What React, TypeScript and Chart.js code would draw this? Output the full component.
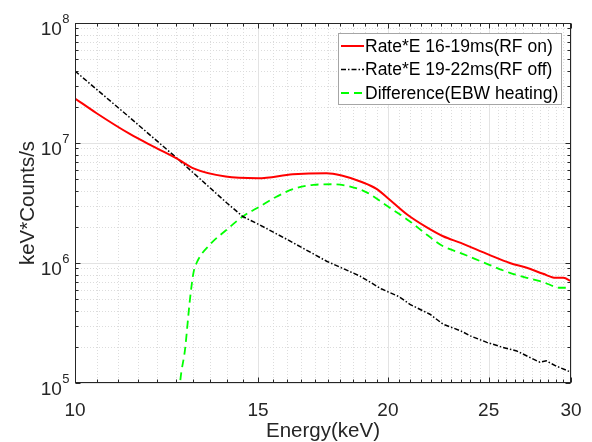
import React, { useEffect, useRef } from 'react';
import { Chart, registerables } from 'chart.js';

Chart.register(...registerables);

// ---- Data ----
const rfOnEnergy = [10, 10.49, 11.29, 11.94, 12.57, 13.0, 13.96, 15.0, 16.2, 17.46, 18.05, 18.9, 19.5, 20.0, 20.9, 21.8, 22.6, 23.5, 25.0, 26.2, 27.2, 28.2, 29.0, 29.5, 30.0];
const rfOnRate = [2.35e7, 1.77e7, 1.19e7, 9.2e6, 7.31e6, 6.15e6, 5.25e6, 5.08e6, 5.48e6, 5.6e6, 5.35e6, 4.71e6, 4.15e6, 3.47e6, 2.51e6, 1.98e6, 1.67e6, 1.47e6, 1.175e6, 1.0e6, 9.12e5, 8.13e5, 7.53e5, 7.53e5, 7.06e5];

const rfOffEnergy = [10, 11.29, 12.57, 14.0, 14.5, 15.0, 16.0, 17.46, 18.8, 19.7, 20.5, 21.0, 21.95, 22.6, 23.5, 24.0, 24.9, 25.8, 26.6, 27.6, 28.0, 28.4, 29.0, 30.0];
const rfOffRate = [3.98e7, 1.63e7, 7.31e6, 3.16e6, 2.44e6, 2.11e6, 1.57e6, 1.035e6, 7.78e5, 6.1e5, 5.24e5, 4.52e5, 3.74e5, 3.09e5, 2.72e5, 2.47e5, 2.18e5, 1.98e5, 1.85e5, 1.58e5, 1.49e5, 1.53e5, 1.39e5, 1.23e5];

const diffEnergy = [12.55, 12.62, 12.76, 12.9, 13.0, 13.09, 13.48, 14.0, 14.5, 15.06, 15.64, 16.2, 16.95, 17.7, 18.4, 19.1, 20.0, 21.0, 21.8, 22.6, 23.5, 25.0, 26.2, 27.2, 28.2, 29.3, 30.0];
const diffRate = [5e4, 1.0e5, 1.91e5, 4.98e5, 8.28e5, 1.0e6, 1.42e6, 1.9e6, 2.44e6, 2.96e6, 3.58e6, 4.12e6, 4.48e6, 4.53e6, 4.34e6, 3.86e6, 2.96e6, 2.22e6, 1.72e6, 1.38e6, 1.21e6, 9.7e5, 8.28e5, 7.53e5, 6.93e5, 6.22e5, 6.22e5];

const seriesLabels = ['Rate*E 16-19ms(RF on)', 'Rate*E 19-22ms(RF off)', 'Difference(EBW heating)'];
const xMajorTicks = [10, 15, 20, 25, 30];
const xMinorStep = 0.5;
const yMajorTicks = [1e5, 1e6, 1e7, 1e8];
const yExponents = ['5', '6', '7', '8'];
const xTitle = 'Energy(keV)';
const yTitle = 'keV*Counts/s';

const FONT = '"Liberation Sans", Arial, Helvetica, sans-serif';
const AXIS_COLOR = '#262626';
const TICK_SIZE = 19;
const TITLE_SIZE = 20.5;
const LEGEND_SIZE = 17.5;

const colors = ['#ff0000', '#000000', '#00ff00'];
const dashes: number[][] = [[], [5, 2, 1.5, 2], [8, 5]];
const widths = [2, 1.5, 1.8];

function toPoints(xs: number[], ys: number[]) {
  return xs.map((x, i) => ({ x, y: ys[i] }));
}

const decorPlugin = {
  id: 'matlabDecor',
  beforeDatasetsDraw(chart: any) {
    const { ctx, chartArea: a, scales } = chart;
    const xs = scales.x;
    const ys = scales.y;
    ctx.save();
    // minor grid (dotted)
    ctx.strokeStyle = '#dcdcdc';
    ctx.lineWidth = 1;
    ctx.setLineDash([1, 2]);
    for (let v = xMajorTicks[0] + xMinorStep; v < xMajorTicks[xMajorTicks.length - 1]; v += xMinorStep) {
      if (xMajorTicks.includes(v)) continue;
      const px = Math.round(xs.getPixelForValue(v)) + 0.5;
      ctx.beginPath();
      ctx.moveTo(px, a.top);
      ctx.lineTo(px, a.bottom);
      ctx.stroke();
    }
    for (let d = 0; d < yMajorTicks.length - 1; d++) {
      for (let m = 2; m <= 9; m++) {
        const v = yMajorTicks[d] * m;
        const py = Math.round(ys.getPixelForValue(v)) + 0.5;
        ctx.beginPath();
        ctx.moveTo(a.left, py);
        ctx.lineTo(a.right, py);
        ctx.stroke();
      }
    }
    // major grid
    ctx.setLineDash([]);
    ctx.strokeStyle = '#e3e3e3';
    xMajorTicks.forEach((v) => {
      const px = Math.round(xs.getPixelForValue(v)) + 0.5;
      ctx.beginPath();
      ctx.moveTo(px, a.top);
      ctx.lineTo(px, a.bottom);
      ctx.stroke();
    });
    yMajorTicks.forEach((v) => {
      const py = Math.round(ys.getPixelForValue(v)) + 0.5;
      ctx.beginPath();
      ctx.moveTo(a.left, py);
      ctx.lineTo(a.right, py);
      ctx.stroke();
    });
    ctx.restore();
  },
  afterDatasetsDraw(chart: any) {
    const { ctx, chartArea: a, scales } = chart;
    const xs = scales.x;
    const ys = scales.y;
    ctx.save();
    ctx.strokeStyle = AXIS_COLOR;
    ctx.lineWidth = 1;
    ctx.setLineDash([]);
    const L = Math.round(a.left) + 0.5;
    const R = Math.round(a.right) - 0.5;
    const T = Math.round(a.top) + 0.5;
    const B = Math.round(a.bottom) - 0.5;
    const xTick = (v: number, len: number) => {
      const px = Math.round(xs.getPixelForValue(v)) + 0.5;
      ctx.beginPath();
      ctx.moveTo(px, B);
      ctx.lineTo(px, B - len);
      ctx.moveTo(px, T);
      ctx.lineTo(px, T + len);
      ctx.stroke();
    };
    const yTick = (v: number, len: number) => {
      const py = Math.round(ys.getPixelForValue(v)) + 0.5;
      ctx.beginPath();
      ctx.moveTo(L, py);
      ctx.lineTo(L + len, py);
      ctx.moveTo(R, py);
      ctx.lineTo(R - len, py);
      ctx.stroke();
    };
    for (let v = xMajorTicks[0] + xMinorStep; v < xMajorTicks[xMajorTicks.length - 1]; v += xMinorStep) {
      if (!xMajorTicks.includes(v)) xTick(v, 3);
    }
    xMajorTicks.forEach((v) => xTick(v, 5));
    for (let d = 0; d < yMajorTicks.length - 1; d++) {
      for (let m = 2; m <= 9; m++) yTick(yMajorTicks[d] * m, 3);
    }
    yMajorTicks.forEach((v) => yTick(v, 5));
    ctx.strokeRect(L, T, R - L, B - T);

    // y tick labels: "10" with superscript exponent
    ctx.fillStyle = AXIS_COLOR;
    ctx.textBaseline = 'alphabetic';
    ctx.textAlign = 'right';
    yMajorTicks.forEach((v, i) => {
      const py = ys.getPixelForValue(v);
      const rightX = a.left - 5.5;
      ctx.font = `13px ${FONT}`;
      const supW = ctx.measureText(yExponents[i]).width;
      ctx.fillText(yExponents[i], rightX, py);
      ctx.font = `${TICK_SIZE}px ${FONT}`;
      ctx.fillText('10', rightX - supW - 0.5, py + 12);
    });

    // legend
    const bx = 338.5, by = 33.5, bw = 223, bh = 71;
    ctx.fillStyle = '#ffffff';
    ctx.fillRect(bx, by, bw, bh);
    ctx.strokeStyle = '#a6a6a6';
    ctx.lineWidth = 1;
    ctx.strokeRect(bx, by, bw, bh);
    const rows = [46, 69.5, 93];
    seriesLabels.forEach((label, i) => {
      const y = rows[i];
      ctx.strokeStyle = colors[i];
      ctx.lineWidth = widths[i];
      ctx.setLineDash(dashes[i]);
      ctx.beginPath();
      ctx.moveTo(341, y);
      ctx.lineTo(364, y);
      ctx.stroke();
      ctx.setLineDash([]);
      ctx.fillStyle = '#000000';
      ctx.textAlign = 'left';
      ctx.textBaseline = 'middle';
      ctx.font = `${LEGEND_SIZE}px ${FONT}`;
      ctx.fillText(label, 365, y + 1);
    });
    ctx.restore();
  },
};

export default function App() {
  const canvasRef = useRef<HTMLCanvasElement | null>(null);

  useEffect(() => {
    document.body.style.margin = '0';
    const canvas = canvasRef.current;
    if (!canvas) return;
    const chart = new Chart(canvas, {
      type: 'line',
      data: {
        datasets: [
          {
            label: seriesLabels[0],
            data: toPoints(rfOnEnergy, rfOnRate),
            borderColor: colors[0],
            borderWidth: widths[0],
            borderDash: dashes[0],
            pointRadius: 0,
            fill: false,
            cubicInterpolationMode: 'monotone',
          },
          {
            label: seriesLabels[1],
            data: toPoints(rfOffEnergy, rfOffRate),
            borderColor: colors[1],
            borderWidth: widths[1],
            borderDash: dashes[1],
            pointRadius: 0,
            fill: false,
            tension: 0,
          },
          {
            label: seriesLabels[2],
            data: toPoints(diffEnergy, diffRate),
            borderColor: colors[2],
            borderWidth: widths[2],
            borderDash: dashes[2],
            pointRadius: 0,
            fill: false,
            cubicInterpolationMode: 'monotone',
          },
        ],
      },
      options: {
        animation: false,
        responsive: false,
        maintainAspectRatio: false,
        layout: { padding: { top: 23, right: 21, left: 0, bottom: 0 } },
        plugins: {
          legend: { display: false },
          tooltip: { enabled: false },
        },
        scales: {
          x: {
            type: 'logarithmic',
            min: 10,
            max: 30,
            grid: { display: false, drawTicks: false },
            border: { display: false },
            afterBuildTicks: (scale: any) => {
              scale.ticks = xMajorTicks.map((v) => ({ value: v }));
            },
            afterFit: (scale: any) => {
              scale.height = 59;
              scale.paddingLeft = 0;
              scale.paddingRight = 0;
            },
            ticks: {
              autoSkip: false,
              maxRotation: 0,
              padding: 16,
              color: AXIS_COLOR,
              font: { family: FONT, size: TICK_SIZE },
              callback: (v: any) => String(v),
            },
            title: {
              display: true,
              text: xTitle,
              color: AXIS_COLOR,
              font: { family: FONT, size: TITLE_SIZE, lineHeight: 1.0 },
              padding: { top: 0, bottom: 0 },
            },
          },
          y: {
            type: 'logarithmic',
            min: 1e5,
            max: 1e8,
            grid: { display: false, drawTicks: false },
            border: { display: false },
            ticks: { display: false },
            afterFit: (scale: any) => {
              scale.width = 75;
              scale.paddingTop = 0;
              scale.paddingBottom = 0;
            },
            title: {
              display: true,
              text: yTitle,
              color: AXIS_COLOR,
              font: { family: FONT, size: TITLE_SIZE },
              padding: { top: 16, bottom: 0 },
            },
          },
        },
      } as any,
      plugins: [decorPlugin],
    });
    return () => chart.destroy();
  }, []);

  return (
    <div style={{ width: 592, height: 442, position: 'relative' }}>
      <canvas ref={canvasRef} width={592} height={442} style={{ display: 'block' }} />
    </div>
  );
}
